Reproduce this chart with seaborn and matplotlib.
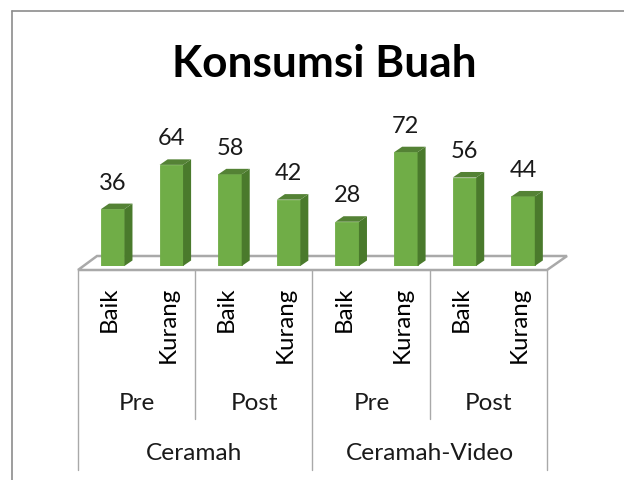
import matplotlib
matplotlib.use('Agg')
import matplotlib.pyplot as plt
import pandas as pd
import seaborn as sns
from matplotlib.patches import Polygon

# data
answers = ['Baik', 'Kurang', 'Baik', 'Kurang', 'Baik', 'Kurang', 'Baik', 'Kurang']
values = [36, 64, 58, 42, 28, 72, 56, 44]
times = ['Pre', 'Post', 'Pre', 'Post']
groups = ['Ceramah', 'Ceramah-Video']

sns.set_style('white')
plt.rcParams['font.family'] = ['Lato', 'DejaVu Sans']

W, H = 624, 480
fig = plt.figure(figsize=(W / 100, H / 100), dpi=100)

# background layer in pixel coordinates: frame, floor, separators, labels
bg = fig.add_axes([0, 0, 1, 1], zorder=0)
bg.set_xlim(0, W)
bg.set_ylim(H, 0)
bg.axis('off')

frame = '#8c8c8c'
grey = '#a9a9a9'
bg.plot([12, 12], [480, 11], color=frame, lw=1.2)
bg.plot([12, 624], [11, 11], color=frame, lw=1.2)
bg.add_patch(Polygon([(78, 270), (97, 256), (567, 256), (547, 270)],
                     closed=True, fc='white', ec=grey, lw=1.8))
for x, bottom in [(78, 470), (195, 419), (312, 470), (430, 419), (547, 470)]:
    bg.plot([x, x], [270, bottom], color=grey, lw=1)

bg.text(324, 64, 'Konsumsi Buah', fontsize=31.8, fontweight='bold',
        ha='center', va='center', color='black')

# bars
ax = fig.add_axes([83.4 / W, (H - 266) / H, 469 / W, 126.4 / H], zorder=1)
ax.patch.set_alpha(0)
order = list(range(len(values)))
df = pd.DataFrame({'pos': order, 'value': values})
sns.barplot(x='pos', y='value', data=df, order=order, color='#70ad47',
            saturation=1, width=0.4, ax=ax)
ax.set_xlim(-0.5, 7.5)
ax.set_ylim(0, 80)
ax.axis('off')

# 3d side and top of each bar
dx, dy = 0.137, 3.5
for p, v in zip(list(ax.patches), values):
    x0, w = p.get_x(), p.get_width()
    x1 = x0 + w
    p.set_edgecolor('#70ad47')
    p.set_linewidth(0.6)
    ax.add_patch(Polygon([(x1, 0), (x1, v), (x1 + dx, v + dy), (x1 + dx, dy)],
                         closed=True, fc='#4a7a2c', ec='none', clip_on=False))
    ax.add_patch(Polygon([(x0, v), (x1, v), (x1 + dx, v + dy), (x0 + dx, v + dy)],
                         closed=True, fc='#548235', ec='none', clip_on=False))
    ax.annotate(str(v), (x0 + w / 2, v), xytext=(0, 26), textcoords='offset pixels',
                ha='center', va='center', fontsize=17, color='#1a1a1a',
                annotation_clip=False)

# multi level category labels
for i, a in enumerate(answers):
    bg.text(116 + 58.6 * i, 287, a, rotation=90, rotation_mode='anchor',
            ha='right', va='baseline', fontsize=17.3, color='black')
for i, t in enumerate(times):
    bg.text(137 + 117.3 * i, 403, t, ha='center', va='center', fontsize=17.5, color='#1a1a1a')
for i, g in enumerate(groups):
    bg.text(194 + 235.5 * i, 453, g, ha='center', va='center', fontsize=17.6, color='#1a1a1a')

fig.savefig('out.png', dpi=100)
